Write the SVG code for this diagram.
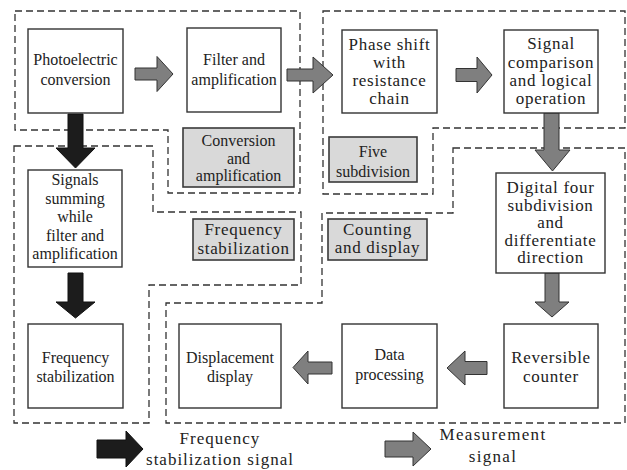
<svg xmlns="http://www.w3.org/2000/svg" width="627" height="470" viewBox="0 0 627 470" font-family="'Liberation Serif', 'DejaVu Serif', serif">
<style>
.bg{fill:#ffffff}
.box{fill:#ffffff;stroke:#333333;stroke-width:1.4}
.lbl{fill:#d9d9d9;stroke:#3a3a3a;stroke-width:1.6}
.reg{fill:none;stroke:#333333;stroke-width:1.3;stroke-dasharray:7 4}
.ga{fill:#7f7f7f;stroke:#333333;stroke-width:1}
.ba{fill:#1c1c1c;stroke:#111111;stroke-width:1}
text{fill:#222222;text-anchor:middle}
.t{font-size:16px}
.s{font-size:17px;letter-spacing:0.7px}
</style>
<rect class="bg" x="0" y="0" width="627" height="470"/>
<g id="regions">
<polygon id="reg-conversion" class="reg" points="15,11 300,11 300,193 168,193 168,130 15,130"/>
<polygon id="reg-five" class="reg" points="323,11 625,11 625,128 433,128 433,194 323,194"/>
<polygon id="reg-frequency" class="reg" points="14,146 153,146 153,212 301,212 301,285 149,285 149,423 14,423"/>
<polygon id="reg-counting" class="reg" points="453,148 625,148 625,423 166,423 166,303 322,303 322,213 453,213"/>
</g>
<g id="connectors">
<polygon class="ga" points="135,68 157,68 157,56.5 173,74 157,91.5 157,80 135,80"/>
<polygon class="ga" points="287,69 313,69 313,57 333,75 313,93 313,81 287,81"/>
<polygon class="ga" points="456,68.5 477,68.5 477,57 492,75 477,93 477,81.5 456,81.5"/>
<polygon class="ga" points="544,113 559,113 559,150 570,150 552.5,171 535,150 544,150"/>
<polygon class="ga" points="545,273 559,273 559,302 569,302 552,317 535,302 545,302"/>
<polygon class="ga" points="487,361.5 465,361.5 465,351 447,368 465,385 465,374.5 487,374.5"/>
<polygon class="ga" points="332,362 308,362 308,351 293,367.5 308,384 308,374 332,374"/>
<polygon class="ba" points="68,114 83,114 83,148 95,148 75.5,168 56,148 68,148"/>
<polygon class="ba" points="68,273 83,273 83,302 95,302 75.5,318 56,302 68,302"/>
</g>
<g id="n-photoelectric"><rect class="box" x="28" y="29" width="95" height="84"/><text class="t" x="75.5" y="65">Photoelectric</text><text class="t" x="75.5" y="85">conversion</text></g>
<g id="n-filter"><rect class="box" x="187" y="28" width="94" height="84"/><text class="t" x="234" y="65">Filter and</text><text class="t" x="234" y="85">amplification</text></g>
<g id="n-phase"><rect class="box" x="342" y="30" width="95" height="83"/><text class="s" x="389.5" y="50">Phase shift</text><text class="s" x="389.5" y="68">with</text><text class="s" x="389.5" y="86">resistance</text><text class="s" x="389.5" y="104">chain</text></g>
<g id="n-signal"><rect class="box" x="504" y="30" width="94" height="83"/><text class="s" x="551" y="49">Signal</text><text class="s" x="551" y="68">comparison</text><text class="s" x="551" y="86">and logical</text><text class="s" x="551" y="104">operation</text></g>
<g id="l-conversion"><rect class="lbl" x="183" y="128" width="111" height="59"/><text class="t" x="238.5" y="146">Conversion</text><text class="t" x="238.5" y="164">and</text><text class="t" x="238.5" y="181">amplification</text></g>
<g id="l-five"><rect class="lbl" x="329" y="137" width="88" height="45"/><text class="t" x="373" y="157">Five</text><text class="t" x="373" y="177">subdivision</text></g>
<g id="n-summing"><rect class="box" x="28" y="170" width="94" height="97"/><text class="t" x="75" y="185">Signals</text><text class="t" x="75" y="203.5">summing</text><text class="t" x="75" y="222">while</text><text class="t" x="75" y="240.5">filter and</text><text class="t" x="75" y="259">amplification</text></g>
<g id="l-frequency"><rect class="lbl" x="193" y="219" width="101" height="41"/><text class="s" x="243.5" y="235">Frequency</text><text class="s" x="243.5" y="254">stabilization</text></g>
<g id="l-counting"><rect class="lbl" x="328" y="219" width="99" height="41"/><text class="s" x="377.5" y="235">Counting</text><text class="s" x="377.5" y="253">and display</text></g>
<g id="n-digital"><rect class="box" x="496" y="173" width="109" height="100"/><text class="s" x="550.5" y="193">Digital four</text><text class="s" x="550.5" y="210.5">subdivision</text><text class="s" x="550.5" y="228">and</text><text class="s" x="550.5" y="245.5">differentiate</text><text class="s" x="550.5" y="263">direction</text></g>
<g id="n-freqstab"><rect class="box" x="28" y="324" width="95" height="84"/><text class="t" x="75.5" y="363">Frequency</text><text class="t" x="75.5" y="382">stabilization</text></g>
<g id="n-displacement"><rect class="box" x="179" y="324" width="102" height="84"/><text class="t" x="230" y="363">Displacement</text><text class="t" x="230" y="382">display</text></g>
<g id="n-data"><rect class="box" x="342" y="324" width="95" height="84"/><text class="t" x="389.5" y="360">Data</text><text class="t" x="389.5" y="380">processing</text></g>
<g id="n-counter"><rect class="box" x="504" y="324" width="94" height="84"/><text class="s" x="551" y="363">Reversible</text><text class="s" x="551" y="382">counter</text></g>
<g id="legend">
<polygon class="ba" points="97,440 126,440 126,431 143,449 126,467 126,458 97,458"/>
<text class="s" x="220" y="444" style="letter-spacing:1px">Frequency</text>
<text class="s" x="220" y="465" style="letter-spacing:1px">stabilization signal</text>
<polygon class="ga" points="385,441 413,441 413,432 431,449 413,466 413,457 385,457"/>
<text class="s" x="493" y="440" style="letter-spacing:1.3px">Measurement</text>
<text class="s" x="493" y="462" style="letter-spacing:1.3px">signal</text>
</g>
</svg>
